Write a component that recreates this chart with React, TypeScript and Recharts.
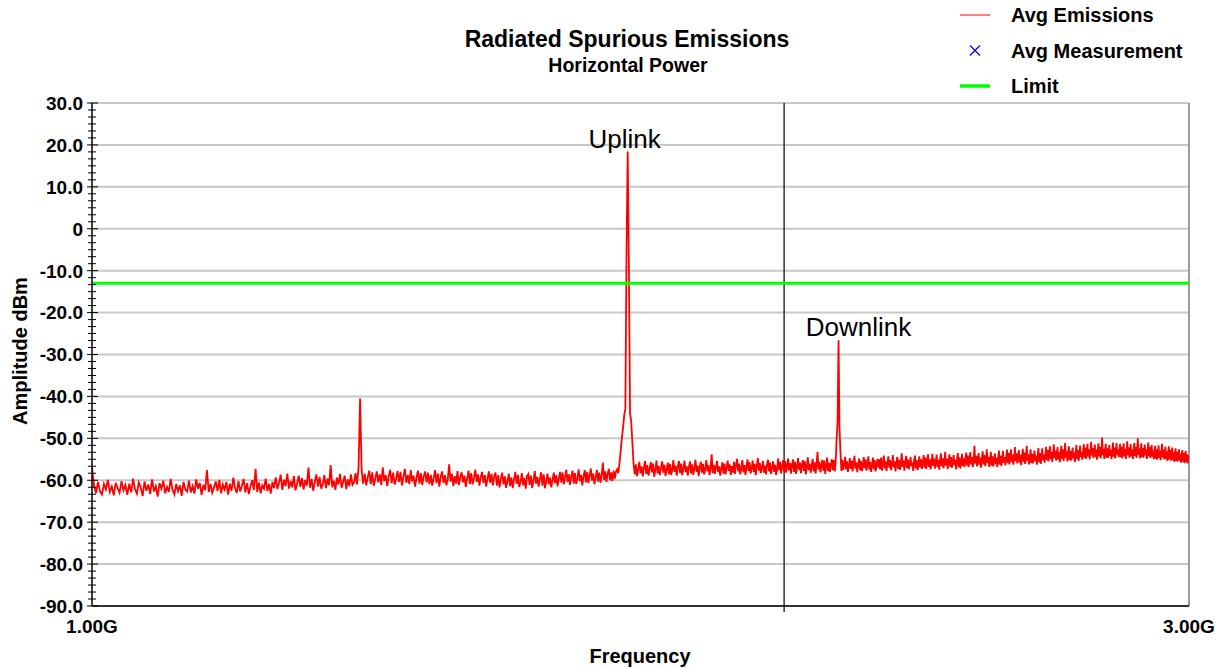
import React from 'react';
import {
  ComposedChart, Line, XAxis, YAxis, ReferenceLine, ReferenceDot,
} from 'recharts';

// Sweep 1.000 GHz .. 3.000 GHz, 2 MHz step; one segment per 100 MHz
const FREQ_START = 1.0;
const SEGMENT_SPAN = 0.1;
const FREQ_STEP = 0.002;

// Average emissions (dBm)
const SEG_1_0 = [-57.0, -61.2, -63.1, -60.4, -62.6, -63.4, -60.9, -62.2, -59.9, -62.8, -61.5, -63.6, -60.6, -61.9, -63.0, -60.2, -62.4, -61.1, -63.5, -60.8, -62.9, -59.6, -62.1, -63.2, -60.5, -61.7, -63.8, -60.3, -62.5, -61.0, -63.3, -59.8, -62.7, -61.4, -63.9, -60.7, -62.0, -60.1, -63.1, -61.6, -62.8, -59.7, -62.3, -63.4, -60.9, -62.6, -61.2, -63.7, -60.4, -62.2];
const SEG_1_1 = [-62.7, -60.1, -62.9, -61.4, -63.2, -59.8, -62.0, -60.6, -63.5, -61.1, -62.4, -57.6, -62.8, -60.9, -63.0, -61.7, -60.3, -62.6, -59.9, -63.1, -61.0, -62.2, -60.4, -63.4, -60.8, -62.5, -59.4, -61.9, -63.0, -60.2, -62.7, -61.3, -59.7, -62.9, -60.7, -63.3, -61.5, -60.0, -62.3, -57.3, -62.8, -60.5, -63.1, -61.2, -62.0, -59.6, -62.6, -60.9, -63.2, -60.4];
const SEG_1_2 = [-61.9, -59.3, -62.1, -60.6, -58.7, -62.3, -59.9, -61.4, -58.4, -62.0, -60.2, -61.7, -59.0, -62.4, -60.8, -58.9, -61.6, -59.5, -62.2, -60.0, -61.3, -57.0, -61.8, -59.7, -62.5, -60.4, -58.6, -61.5, -59.2, -62.0, -60.9, -58.8, -61.9, -59.6, -61.2, -56.4, -61.7, -60.1, -62.3, -59.4, -61.0, -58.5, -61.8, -60.3, -58.9, -62.1, -59.8, -61.4, -58.6, -61.1];
const SEG_1_3 = [-60.6, -58.3, -61.0, -56.8, -40.5, -57.6, -60.8, -58.4, -61.2, -59.3, -57.7, -60.9, -58.1, -61.3, -59.6, -57.9, -60.5, -58.6, -61.1, -56.9, -60.2, -58.8, -61.4, -59.0, -57.5, -60.7, -58.2, -61.0, -59.7, -57.8, -60.4, -58.0, -61.2, -59.2, -57.3, -60.6, -58.7, -60.9, -57.6, -60.3, -58.9, -61.5, -59.4, -57.7, -60.8, -58.3, -61.1, -59.1, -57.9, -60.5];
const SEG_1_4 = [-58.2, -60.9, -58.7, -61.3, -59.5, -57.6, -60.7, -58.4, -61.5, -59.1, -57.9, -60.6, -58.8, -61.2, -59.8, -56.2, -60.3, -58.5, -61.4, -59.0, -60.8, -57.8, -61.1, -59.3, -58.1, -60.5, -58.9, -61.6, -59.6, -57.7, -60.9, -58.3, -61.0, -59.4, -57.5, -60.4, -58.6, -61.3, -59.2, -58.0, -60.7, -58.8, -61.5, -59.7, -57.9, -60.6, -58.5, -61.2, -59.0, -58.2];
const SEG_1_5 = [-61.3, -58.8, -61.7, -59.6, -58.2, -61.0, -59.1, -61.8, -60.2, -58.4, -61.4, -59.3, -61.9, -59.8, -58.0, -60.9, -58.7, -61.6, -60.4, -58.3, -61.2, -59.5, -62.0, -59.0, -58.5, -61.1, -58.9, -61.8, -60.0, -57.8, -60.8, -59.2, -61.5, -59.7, -58.1, -61.3, -58.6, -61.9, -60.3, -58.4, -61.0, -59.4, -61.7, -59.9, -58.2, -60.7, -58.8, -61.4, -59.6, -58.0];
const SEG_1_6 = [-60.6, -58.1, -61.0, -59.3, -57.5, -60.4, -58.6, -61.1, -59.0, -57.7, -60.8, -58.3, -60.9, -59.5, -57.4, -60.2, -58.7, -61.2, -59.1, -57.6, -60.5, -58.0, -60.7, -58.9, -57.2, -60.1, -58.4, -60.9, -59.4, -57.5, -60.3, -58.2, -60.6, -58.8, -55.8, -59.9, -57.9, -60.4, -58.5, -57.3, -60.0, -58.1, -60.2, -57.7, -59.6, -58.0, -57.4, -58.3, -56.0, -53.0];
const SEG_1_7 = [-50.0, -47.5, -44.5, -43.0, -5.0, 18.4, -8.0, -44.0, -46.0, -51.0, -56.0, -58.6, -56.2, -59.0, -57.4, -55.6, -58.3, -56.7, -59.1, -57.0, -55.4, -58.5, -56.4, -58.9, -57.2, -55.7, -58.1, -56.0, -59.2, -57.5, -55.3, -58.4, -56.6, -58.8, -57.1, -55.5, -58.2, -56.3, -59.0, -57.3, -55.8, -58.6, -56.1, -58.7, -57.6, -55.2, -58.0, -56.5, -58.9, -56.8];
const SEG_1_8 = [-55.4, -58.3, -56.0, -58.8, -57.2, -55.3, -58.1, -56.6, -58.9, -57.0, -55.5, -58.4, -56.2, -58.7, -57.3, -55.1, -58.0, -56.5, -59.0, -56.8, -55.6, -58.2, -56.1, -58.6, -57.4, -55.2, -57.9, -56.4, -58.8, -57.1, -53.8, -58.3, -56.3, -58.5, -56.9, -55.4, -58.1, -56.7, -58.9, -57.2, -55.7, -58.4, -56.0, -58.6, -57.0, -55.3, -57.8, -56.2, -58.7, -56.6];
const SEG_1_9 = [-58.2, -55.6, -58.5, -56.3, -54.9, -57.9, -56.0, -58.6, -57.1, -55.2, -58.1, -56.4, -58.7, -56.8, -55.0, -57.8, -55.7, -58.4, -57.2, -55.3, -58.0, -56.1, -58.8, -56.6, -54.7, -57.7, -55.9, -58.3, -57.0, -55.4, -58.2, -56.5, -58.6, -56.2, -55.1, -57.9, -55.8, -58.5, -56.9, -55.5, -58.0, -56.3, -58.7, -57.3, -54.8, -57.6, -55.6, -58.4, -56.7, -55.2];
const SEG_2_0 = [-57.9, -55.4, -58.2, -56.6, -54.8, -57.7, -55.9, -58.4, -56.3, -55.0, -58.0, -55.6, -58.5, -56.9, -54.7, -57.5, -55.8, -58.3, -56.4, -55.2, -57.8, -55.5, -58.6, -56.8, -54.5, -57.6, -56.0, -58.2, -56.5, -54.9, -57.9, -55.7, -58.4, -56.2, -53.2, -57.4, -55.6, -58.1, -56.7, -55.1, -57.7, -55.3, -58.5, -56.6, -54.6, -57.8, -55.9, -58.0, -56.1, -55.0];
const SEG_2_1 = [-57.6, -55.2, -57.9, -55.6, -50.0, -46.0, -26.6, -47.5, -53.0, -57.8, -55.1, -57.5, -56.2, -54.4, -57.4, -55.5, -58.0, -56.5, -54.7, -57.3, -55.3, -57.9, -56.0, -54.2, -57.2, -55.7, -58.1, -56.3, -54.8, -57.6, -55.4, -57.8, -56.6, -54.5, -57.1, -55.0, -57.7, -56.1, -54.3, -57.5, -55.6, -58.0, -56.4, -54.6, -57.3, -55.2, -57.9, -56.2, -54.9, -57.0];
const SEG_2_2 = [-55.0, -57.4, -54.6, -57.7, -55.9, -54.1, -57.2, -55.4, -57.8, -56.0, -54.3, -57.0, -55.2, -57.6, -56.3, -54.0, -56.9, -55.5, -57.9, -55.8, -54.4, -57.3, -55.1, -57.5, -56.2, -53.6, -56.8, -55.3, -57.7, -55.6, -54.2, -57.1, -55.0, -57.4, -56.1, -54.5, -56.7, -55.7, -57.8, -55.4, -54.1, -57.2, -55.2, -57.6, -56.4, -54.3, -56.9, -55.0, -57.3, -55.8];
const SEG_2_3 = [-54.0, -57.0, -54.6, -57.3, -55.5, -53.8, -56.8, -55.0, -57.4, -55.9, -53.7, -56.6, -54.8, -57.2, -55.6, -53.9, -56.9, -55.1, -57.5, -55.3, -53.6, -56.7, -54.7, -57.1, -56.0, -53.2, -56.5, -54.9, -57.3, -55.4, -53.8, -56.8, -54.5, -57.0, -55.7, -54.0, -56.4, -55.2, -57.4, -55.0, -53.5, -56.9, -54.6, -57.2, -55.8, -53.7, -56.6, -54.8, -56.9, -55.2];
const SEG_2_4 = [-53.4, -56.5, -54.1, -56.8, -55.0, -53.3, -56.3, -54.5, -56.9, -55.4, -51.8, -56.0, -54.2, -56.7, -55.1, -53.5, -56.4, -54.6, -57.0, -54.9, -53.1, -56.2, -54.0, -56.6, -55.3, -52.6, -55.9, -54.4, -56.8, -55.0, -53.2, -56.5, -54.3, -56.7, -55.2, -53.6, -56.1, -54.7, -56.9, -54.8, -52.9, -56.3, -54.1, -56.6, -55.4, -53.0, -55.8, -54.5, -56.4, -54.6];
const SEG_2_5 = [-52.7, -55.9, -53.5, -56.2, -54.4, -52.6, -55.7, -53.9, -56.3, -54.8, -52.1, -55.4, -53.6, -56.0, -54.5, -52.8, -55.8, -54.0, -56.4, -54.3, -52.5, -55.6, -53.4, -56.1, -54.7, -51.8, -55.3, -53.8, -56.2, -54.4, -52.6, -55.9, -53.7, -56.0, -54.6, -52.9, -55.5, -54.1, -56.3, -54.2, -52.3, -55.7, -53.5, -56.1, -54.8, -52.4, -55.2, -53.9, -55.8, -54.0];
const SEG_2_6 = [-52.0, -55.2, -52.8, -55.5, -53.7, -51.9, -55.0, -53.2, -55.6, -54.1, -51.4, -54.7, -52.9, -55.3, -53.8, -52.1, -55.1, -53.3, -55.7, -53.6, -51.8, -54.9, -52.7, -55.4, -54.0, -51.1, -54.6, -53.1, -55.5, -53.7, -51.9, -55.2, -53.0, -55.3, -53.9, -52.2, -54.8, -53.4, -55.6, -53.5, -51.6, -55.0, -52.8, -55.4, -54.1, -51.7, -54.5, -53.2, -55.1, -53.3];
const SEG_2_7 = [-51.4, -54.6, -52.2, -54.9, -53.1, -51.3, -54.4, -52.6, -55.0, -53.5, -50.8, -54.1, -52.3, -54.7, -53.2, -51.5, -54.5, -52.7, -55.1, -53.0, -51.2, -54.3, -52.1, -54.8, -53.4, -49.8, -54.0, -52.5, -54.9, -53.1, -51.3, -54.6, -52.4, -54.7, -53.3, -51.6, -54.2, -52.8, -55.0, -52.9, -51.0, -54.4, -52.2, -54.8, -53.5, -51.1, -53.9, -52.6, -54.5, -52.7];
const SEG_2_8 = [-51.3, -54.5, -52.1, -54.8, -53.0, -51.2, -54.3, -52.5, -54.9, -53.4, -50.7, -54.0, -52.2, -54.6, -53.1, -51.4, -54.4, -52.6, -55.0, -52.9, -51.1, -54.2, -52.0, -54.7, -53.3, -50.0, -53.9, -52.4, -54.8, -53.0, -51.2, -54.5, -52.3, -54.6, -53.2, -51.5, -54.1, -52.7, -54.9, -52.8, -51.0, -54.3, -52.1, -54.7, -53.4, -51.6, -54.4, -52.9, -55.0, -53.1];
const SEG_2_9 = [-51.8, -54.9, -52.6, -55.1, -53.4, -51.7, -54.7, -52.9, -55.2, -53.7, -51.3, -54.5, -52.7, -55.0, -53.5, -52.0, -55.0, -53.1, -55.4, -53.3, -51.9, -55.1, -52.8, -55.3, -53.8, -52.2, -55.2, -53.4, -55.6, -53.6, -52.4, -55.4, -53.2, -55.5, -54.0, -52.6, -55.3, -53.7, -55.8, -53.9, -52.8, -55.6, -53.5, -55.9, -54.2, -53.0, -55.7, -53.8, -56.0, -54.1];
const SEG_3_0 = [-54.8];

const SEGMENTS = [
  SEG_1_0, SEG_1_1, SEG_1_2, SEG_1_3, SEG_1_4, SEG_1_5, SEG_1_6, SEG_1_7, SEG_1_8, SEG_1_9,
  SEG_2_0, SEG_2_1, SEG_2_2, SEG_2_3, SEG_2_4, SEG_2_5, SEG_2_6, SEG_2_7, SEG_2_8, SEG_2_9, SEG_3_0,
];

const LIMIT = -13;
const X_TICKS = [1, 2, 3];
const X_LABELED = [1, 3];
const Y_MAJOR = [30, 20, 10, 0, -10, -20, -30, -40, -50, -60, -70, -80, -90];
const Y_MINOR_DIV = 6;
const MARKERS = [
  { name: 'Uplink', f: 1.71, amp: 18.4, dx: -3 },
  { name: 'Downlink', f: 2.112, amp: -26.6, dx: 20 },
];
const LEGEND = [
  { name: 'Avg Emissions', kind: 'line', color: '#ff0000' },
  { name: 'Avg Measurement', kind: 'cross', color: '#0000ff' },
  { name: 'Limit', kind: 'thick', color: '#00ff00' },
];

const data = SEGMENTS.flatMap((seg, s) =>
  seg.map((a, i) => ({ f: +(FREQ_START + s * SEGMENT_SPAN + i * FREQ_STEP).toFixed(4), amp: a })),
);

const yTicks: number[] = [];
for (let k = 0; k < Y_MAJOR.length; k++) {
  yTicks.push(Y_MAJOR[k]);
  if (k < Y_MAJOR.length - 1) {
    const step = (Y_MAJOR[k] - Y_MAJOR[k + 1]) / Y_MINOR_DIV;
    for (let j = 1; j < Y_MINOR_DIV; j++) yTicks.push(+(Y_MAJOR[k] - j * step).toFixed(4));
  }
}

const FONT = '"Liberation Sans", Arial, sans-serif';

const YTick = (props: any) => {
  const { x, y, payload } = props;
  const v = payload.value;
  const major = Y_MAJOR.includes(v);
  return (
    <g>
      <line x1={x - (major ? 5 : 4)} x2={x + (major ? 6 : 4)} y1={y} y2={y} stroke="#000" strokeWidth={1} />
      {major && (
        <text x={x - 9} y={y} dy="0.36em" textAnchor="end" fontFamily={FONT} fontWeight="bold" fontSize={19} fill="#000">
          {v === 0 ? '0' : v.toFixed(1)}
        </text>
      )}
    </g>
  );
};

const XTick = (props: any) => {
  const { x, y, payload } = props;
  const v = payload.value;
  if (!X_LABELED.includes(v)) {
    return <line x1={x} x2={x} y1={y} y2={y + 6} stroke="#333" strokeWidth={1.5} />;
  }
  return (
    <text x={x} y={y + 27} textAnchor="middle" fontFamily={FONT} fontWeight="bold" fontSize={19} fill="#000">
      {v.toFixed(2) + 'G'}
    </text>
  );
};

const markerLabel = (name: string, dx: number) => (props: any) => {
  const vb = props.viewBox || {};
  const cx = vb.x + (vb.width || 0) / 2;
  return (
    <text x={cx + dx} y={vb.y - 4} textAnchor="middle" fontFamily={FONT} fontSize={26} fill="#000">
      {name}
    </text>
  );
};

export default function App() {
  return (
    <div style={{ position: 'absolute', left: 0, top: 0, width: 1227, height: 668, background: '#fff', fontFamily: FONT }}>
      <ComposedChart width={1227} height={668} data={data} margin={{ top: 103, right: 38, left: 0, bottom: 0 }}>
        {Y_MAJOR.map((v) => (
          <ReferenceLine key={'g' + v} y={v} stroke="#c8c8c8" strokeWidth={2} />
        ))}
        <ReferenceLine x={3} stroke="#9a9a9a" strokeWidth={2} />
        <XAxis
          dataKey="f"
          type="number"
          scale="log"
          domain={[1, 3]}
          ticks={X_TICKS}
          interval={0}
          allowDataOverflow
          height={62}
          tickSize={0}
          tickMargin={0}
          tick={<XTick />}
          axisLine={{ stroke: '#000', strokeWidth: 1.5 }}
          tickLine={false}
        />
        <YAxis
          type="number"
          domain={[-90, 30]}
          ticks={yTicks}
          interval={0}
          width={92}
          tickSize={0}
          tickMargin={0}
          tick={<YTick />}
          axisLine={{ stroke: '#000', strokeWidth: 1.5 }}
          tickLine={false}
        />
        <ReferenceLine x={2} stroke="#333" strokeWidth={1.5} />
        <Line
          type="linear"
          dataKey="amp"
          stroke="#ff0000"
          strokeWidth={1.8}
          dot={false}
          activeDot={false}
          isAnimationActive={false}
        />
        <ReferenceLine y={LIMIT} stroke="#00ff00" strokeWidth={3} />
        {MARKERS.map((m) => (
          <ReferenceDot key={m.name} x={m.f} y={m.amp} r={0} fill="none" stroke="none" label={markerLabel(m.name, m.dx)} />
        ))}
      </ComposedChart>
      <svg width={1227} height={668} style={{ position: 'absolute', left: 0, top: 0, pointerEvents: 'none' }}>
        <text x={627} y={47} textAnchor="middle" fontFamily={FONT} fontWeight="bold" fontSize={23} fill="#000">
          Radiated Spurious Emissions
        </text>
        <text x={628} y={72} textAnchor="middle" fontFamily={FONT} fontWeight="bold" fontSize={19.5} fill="#000">
          Horizontal Power
        </text>
        <text x={640} y={663} textAnchor="middle" fontFamily={FONT} fontWeight="bold" fontSize={20} fill="#000">
          Frequency
        </text>
        <text x={20} y={351} dy="0.36em" textAnchor="middle" transform="rotate(-90 20 351)" fontFamily={FONT} fontWeight="bold" fontSize={20} fill="#000">
          Amplitude dBm
        </text>
        {LEGEND.map((l, i) => {
          const cy = 15 + i * 35.5;
          return (
            <g key={l.name}>
              {l.kind === 'line' && <line x1={960} x2={990} y1={cy} y2={cy} stroke={l.color} strokeWidth={1} />}
              {l.kind === 'thick' && <line x1={960} x2={990} y1={cy} y2={cy} stroke={l.color} strokeWidth={3.5} />}
              {l.kind === 'cross' && (
                <g stroke={l.color} strokeWidth={1.2}>
                  <line x1={970} x2={980} y1={cy - 5} y2={cy + 5} />
                  <line x1={970} x2={980} y1={cy + 5} y2={cy - 5} />
                </g>
              )}
              <text x={1011} y={cy} dy="0.36em" fontFamily={FONT} fontWeight="bold" fontSize={20} fill="#000">
                {l.name}
              </text>
            </g>
          );
        })}
      </svg>
    </div>
  );
}
